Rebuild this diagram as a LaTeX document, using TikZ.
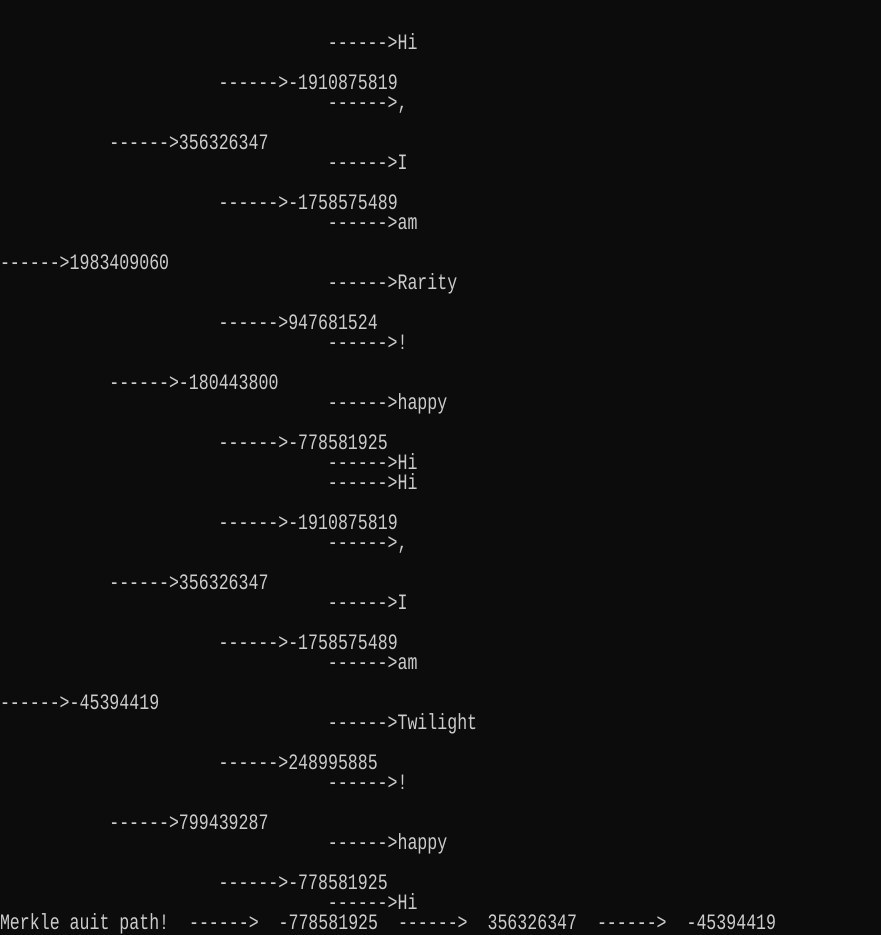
\documentclass[tikz,border=0pt]{standalone}
\usepackage{fontspec}
\newfontfamily\con[FakeStretch=0.754]{Liberation Mono}
\definecolor{bg}{HTML}{0C0C0C}
\definecolor{fg}{HTML}{CCCCCC}
\tikzset{
  ln/.style={anchor=base west, inner sep=0pt, outer sep=0pt, text=fg, font=\con\fontsize{22}{22}\selectfont},
}
\newcommand{\lvl}[1]{#1*109.3}
\newcommand{\row}[1]{9+20*#1}
\begin{document}
\begin{tikzpicture}[x=1pt,y=-1pt]
\fill[bg] (0,0) rectangle (881,935);
\useasboundingbox (0,0) rectangle (881,935);
\node[ln] (r2)  at ({\lvl{3}},{\row{2}})  {------>Hi};
\node[ln] (r4)  at ({\lvl{2}},{\row{4}})  {------>-1910875819};
\node[ln] (r5)  at ({\lvl{3}},{\row{5}})  {------>,};
\node[ln] (r7)  at ({\lvl{1}},{\row{7}})  {------>356326347};
\node[ln] (r8)  at ({\lvl{3}},{\row{8}})  {------>I};
\node[ln] (r10) at ({\lvl{2}},{\row{10}}) {------>-1758575489};
\node[ln] (r11) at ({\lvl{3}},{\row{11}}) {------>am};
\node[ln] (r13) at ({\lvl{0}},{\row{13}}) {------>1983409060};
\node[ln] (r14) at ({\lvl{3}},{\row{14}}) {------>Rarity};
\node[ln] (r16) at ({\lvl{2}},{\row{16}}) {------>947681524};
\node[ln] (r17) at ({\lvl{3}},{\row{17}}) {------>!};
\node[ln] (r19) at ({\lvl{1}},{\row{19}}) {------>-180443800};
\node[ln] (r20) at ({\lvl{3}},{\row{20}}) {------>happy};
\node[ln] (r22) at ({\lvl{2}},{\row{22}}) {------>-778581925};
\node[ln] (r23) at ({\lvl{3}},{\row{23}}) {------>Hi};
\node[ln] (r24) at ({\lvl{3}},{\row{24}}) {------>Hi};
\node[ln] (r26) at ({\lvl{2}},{\row{26}}) {------>-1910875819};
\node[ln] (r27) at ({\lvl{3}},{\row{27}}) {------>,};
\node[ln] (r29) at ({\lvl{1}},{\row{29}}) {------>356326347};
\node[ln] (r30) at ({\lvl{3}},{\row{30}}) {------>I};
\node[ln] (r32) at ({\lvl{2}},{\row{32}}) {------>-1758575489};
\node[ln] (r33) at ({\lvl{3}},{\row{33}}) {------>am};
\node[ln] (r35) at ({\lvl{0}},{\row{35}}) {------>-45394419};
\node[ln] (r36) at ({\lvl{3}},{\row{36}}) {------>Twilight};
\node[ln] (r38) at ({\lvl{2}},{\row{38}}) {------>248995885};
\node[ln] (r39) at ({\lvl{3}},{\row{39}}) {------>!};
\node[ln] (r41) at ({\lvl{1}},{\row{41}}) {------>799439287};
\node[ln] (r42) at ({\lvl{3}},{\row{42}}) {------>happy};
\node[ln] (r44) at ({\lvl{2}},{\row{44}}) {------>-778581925};
\node[ln] (r45) at ({\lvl{3}},{\row{45}}) {------>Hi};
% audit path line
\node[ln] (p0) at ({0*9.95},{\row{46}})  {Merkle auit path!};
\node[ln] (p1) at ({19*9.95},{\row{46}}) {------>};
\node[ln] (p2) at ({28*9.95},{\row{46}}) {-778581925};
\node[ln] (p3) at ({40*9.95},{\row{46}}) {------>};
\node[ln] (p4) at ({49*9.95},{\row{46}}) {356326347};
\node[ln] (p5) at ({60*9.95},{\row{46}}) {------>};
\node[ln] (p6) at ({69*9.95},{\row{46}}) {-45394419};
\end{tikzpicture}
\end{document}
